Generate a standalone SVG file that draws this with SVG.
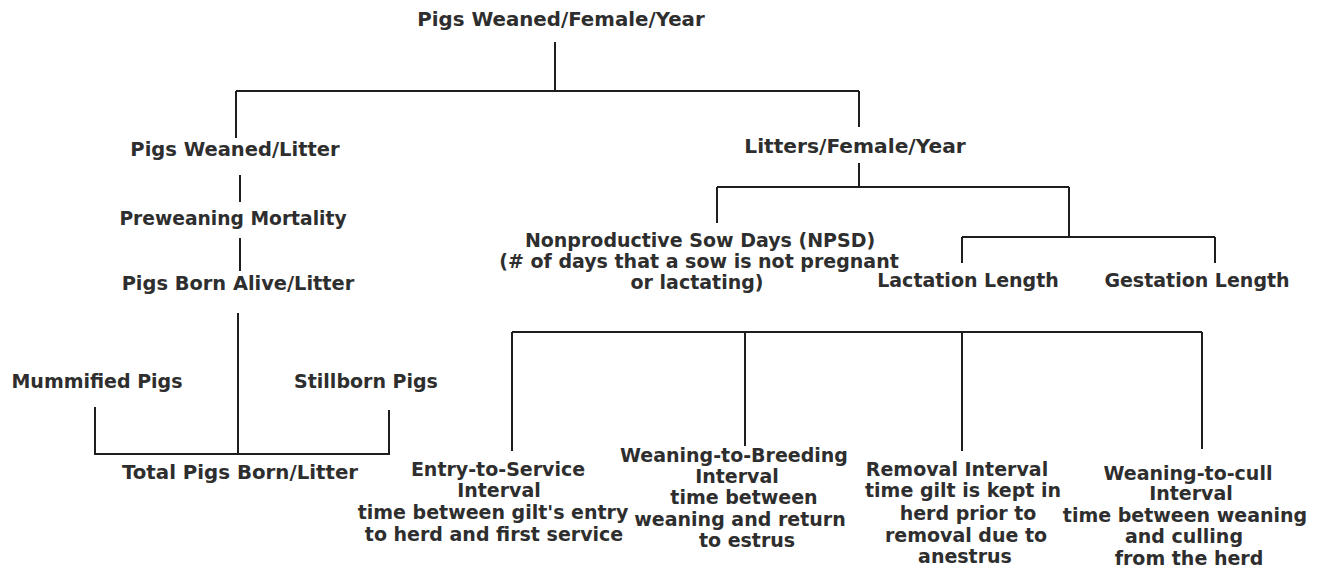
<svg xmlns="http://www.w3.org/2000/svg" width="1325" height="577" viewBox="0 0 1325 577">
<style>
  text { font-family: "DejaVu Sans", "Liberation Sans", sans-serif; font-weight: bold; font-size: 19px; fill: #2e2e2e; text-anchor: middle; }
  .c { fill: none; stroke: #1e1e1e; stroke-width: 2; }
</style>
<rect width="1325" height="577" fill="#ffffff"/>
<g id="connectors">
  <path class="c" d="M555 42 V91 M236 91 H859 M236 91 V138 M859 91 V127"/>
  <path class="c" d="M240 175 V202 M240 238 V271 M238 313 V454"/>
  <path class="c" d="M95 407 V454 H389 V410"/>
  <path class="c" d="M859 163 V187 M717 187 H1069 M717 187 V223 M1069 187 V237 M962 237 H1215 M962 237 V263 M1215 237 V263"/>
  <path class="c" d="M512 332 H1202 M512 332 V451 M745 332 V446 M962 332 V451 M1202 332 V449"/>
</g>
<g id="n-pwfy"><text x="561" y="26" style="font-size:19.8px">Pigs Weaned/Female/Year</text></g>
<g id="n-pwl"><text x="235" y="156" style="font-size:19.5px">Pigs Weaned/Litter</text></g>
<g id="n-pm"><text x="233" y="225" style="font-size:18.7px">Preweaning Mortality</text></g>
<g id="n-pbal"><text x="238" y="290" style="font-size:19.4px">Pigs Born Alive/Litter</text></g>
<g id="n-mum"><text x="97" y="388">Mummified Pigs</text></g>
<g id="n-still"><text x="366" y="388">Stillborn Pigs</text></g>
<g id="n-tpbl"><text x="240" y="479" style="font-size:19.8px">Total Pigs Born/Litter</text></g>
<g id="n-lfy"><text x="855" y="153" style="font-size:20.2px">Litters/Female/Year</text></g>
<g id="n-npsd">
  <text x="700" y="247">Nonproductive Sow Days (NPSD)</text>
  <text x="699" y="268">(# of days that a sow is not pregnant</text>
  <text x="697" y="289">or lactating)</text>
</g>
<g id="n-lact"><text x="968" y="287">Lactation Length</text></g>
<g id="n-gest"><text x="1197" y="287">Gestation Length</text></g>
<g id="n-esi">
  <text x="498" y="476">Entry-to-Service</text>
  <text x="499" y="497">Interval</text>
  <text x="493" y="519">time between gilt's entry</text>
  <text x="494" y="541">to herd and first service</text>
</g>
<g id="n-wbi">
  <text x="734" y="461.5">Weaning-to-Breeding</text>
  <text x="737" y="482.5">Interval</text>
  <text x="744" y="504">time between</text>
  <text x="740" y="525.5">weaning and return</text>
  <text x="747" y="547">to estrus</text>
</g>
<g id="n-ri">
  <text x="957" y="476">Removal Interval</text>
  <text x="963" y="497">time gilt is kept in</text>
  <text x="968" y="520">herd prior to</text>
  <text x="966" y="542">removal due to</text>
  <text x="965" y="563">anestrus</text>
</g>
<g id="n-wci">
  <text x="1188" y="480">Weaning-to-cull</text>
  <text x="1191" y="500">Interval</text>
  <text x="1185" y="522">time between weaning</text>
  <text x="1184" y="543">and culling</text>
  <text x="1189" y="565">from the herd</text>
</g>
</svg>
